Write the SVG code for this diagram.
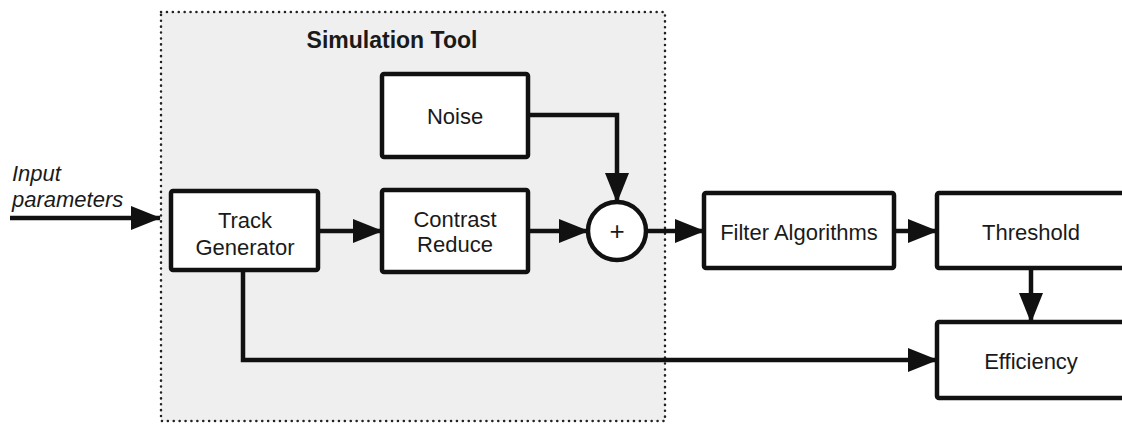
<svg xmlns="http://www.w3.org/2000/svg" width="1122" height="424" viewBox="0 0 1122 424">
<style>
.box{fill:#fff;stroke:#111;stroke-width:4.5;}
.t{font-family:"Liberation Sans",Arial,sans-serif;font-size:22px;fill:#1a1a1a;text-anchor:middle;}
.c{fill:none;stroke:#111;stroke-width:4.5;}
</style>
<defs>
<marker id="ah" markerUnits="userSpaceOnUse" markerWidth="30" markerHeight="26" viewBox="0 0 30 26" refX="29" refY="13" orient="auto">
<path d="M0,1 L30,13 L0,25 Z" fill="#111"/>
</marker>
</defs>
<rect width="1122" height="424" fill="#fff"/>
<g id="sim-tool">
<rect x="161" y="12" width="504" height="409" fill="#efefef" stroke="#222" stroke-width="2.5" stroke-dasharray="0.1 5.8" stroke-linecap="round"/>
<text x="392" y="48" class="t" style="font-weight:bold;font-size:23px">Simulation Tool</text>
</g>
<g id="input-label">
<text x="12" y="181" class="t" style="text-anchor:start;font-style:italic">Input</text>
<text x="12" y="207" class="t" style="text-anchor:start;font-style:italic">parameters</text>
</g>
<g id="track-generator">
<rect x="171" y="191" width="147" height="79" rx="2" class="box"/>
<text x="245" y="228" class="t">Track</text>
<text x="245" y="255" class="t">Generator</text>
</g>
<g id="noise">
<rect x="382" y="74" width="146" height="83" rx="2" class="box"/>
<text x="455" y="124" class="t">Noise</text>
</g>
<g id="contrast-reduce">
<rect x="382" y="190" width="146" height="82" rx="2" class="box"/>
<text x="455" y="227" class="t">Contrast</text>
<text x="455" y="252" class="t">Reduce</text>
</g>
<g id="sum">
<circle cx="617" cy="231" r="29" class="box"/>
<text x="617" y="240" class="t" style="font-size:26px">+</text>
</g>
<g id="filter-algorithms">
<rect x="704" y="193" width="190" height="75" rx="2" class="box"/>
<text x="799" y="240" class="t">Filter Algorithms</text>
</g>
<g id="threshold">
<rect x="937" y="193" width="200" height="75" rx="2" class="box"/>
<text x="1031" y="240" class="t">Threshold</text>
</g>
<g id="efficiency">
<rect x="937" y="322" width="200" height="76" rx="2" class="box"/>
<text x="1031" y="369" class="t">Efficiency</text>
</g>
<g id="connectors">
<line x1="10" y1="218" x2="160" y2="218" class="c" marker-end="url(#ah)"/>
<line x1="318" y1="231" x2="382" y2="231" class="c" marker-end="url(#ah)"/>
<line x1="528" y1="231" x2="588" y2="231" class="c" marker-end="url(#ah)"/>
<polyline points="528,115 617,115 617,202" class="c" marker-end="url(#ah)"/>
<line x1="646" y1="231" x2="704" y2="231" class="c" marker-end="url(#ah)"/>
<line x1="894" y1="231" x2="937" y2="231" class="c" marker-end="url(#ah)"/>
<line x1="1031" y1="268" x2="1031" y2="322" class="c" marker-end="url(#ah)"/>
<polyline points="243,270 243,360 937,360" class="c" marker-end="url(#ah)"/>
</g>
</svg>
